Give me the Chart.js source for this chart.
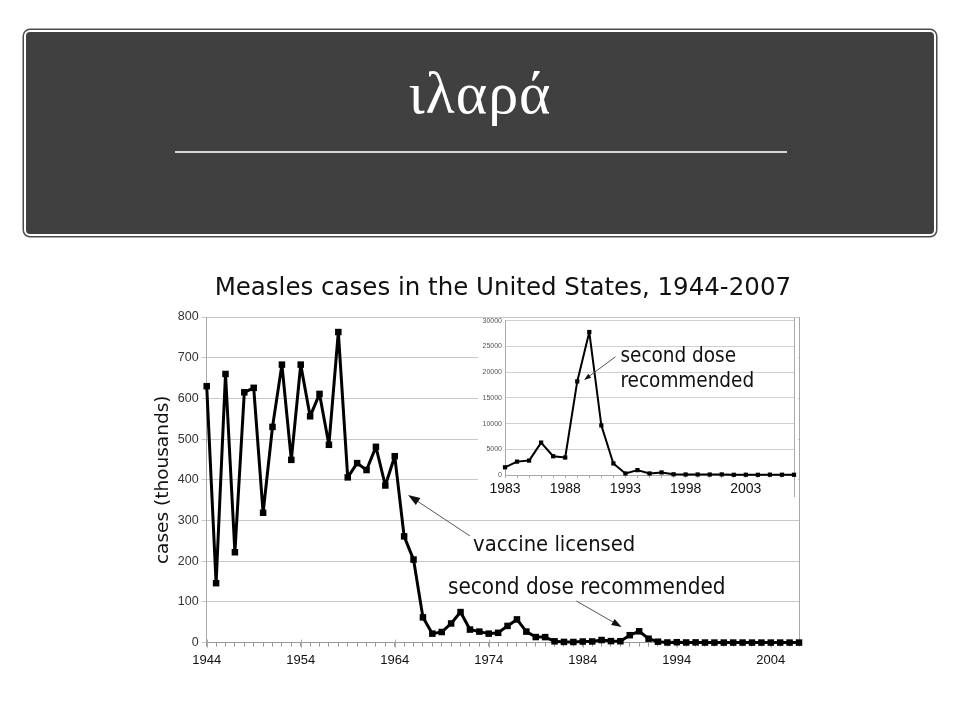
<!DOCTYPE html>
<html>
<head>
<meta charset="utf-8">
<script src="https://cdn.jsdelivr.net/npm/chart.js@4"></script>
<style>
  body { margin: 0; background: #fff; width: 960px; height: 720px; position: relative; overflow: hidden; }
  #banner { position: absolute; left: 24px; top: 30px; width: 912px; height: 206px; box-sizing: border-box;
            background: #404040; border: 2px solid #fff; border-radius: 6px; box-shadow: 0 0 0 1.5px #4d4d4d; }
  #banner h1 { position: absolute; left: 0; right: 0; top: 28px; margin: 0; text-align: center; letter-spacing: 1px;
               font: normal 60px/66px "Liberation Serif", serif; color: #fff; }
  #banner .rule { position: absolute; left: 149px; top: 119px; width: 612px; height: 2px; background: #d8d8d8; }
  #main { position: absolute; left: 140px; top: 262px; }
  #inset { position: absolute; left: 478px; top: 312px; }
</style>
</head>
<body>
<div id="banner"><h1>ιλαρά</h1><div class="rule"></div></div>
<canvas id="main" width="680" height="410"></canvas>
<canvas id="inset" width="320" height="188"></canvas>
<script>
// Measles cases, main chart (thousands)
const years = [1944, 1945, 1946, 1947, 1948, 1949, 1950, 1951, 1952, 1953,
               1954, 1955, 1956, 1957, 1958, 1959, 1960, 1961, 1962, 1963,
               1964, 1965, 1966, 1967, 1968, 1969, 1970, 1971, 1972, 1973,
               1974, 1975, 1976, 1977, 1978, 1979, 1980, 1981, 1982, 1983,
               1984, 1985, 1986, 1987, 1988, 1989, 1990, 1991, 1992, 1993,
               1994, 1995, 1996, 1997, 1998, 1999, 2000, 2001, 2002, 2003,
               2004, 2005, 2006, 2007];
const casesThousands = [630, 146, 660, 222, 615, 626, 319, 530, 683, 449,
                        683, 556, 611, 486, 763, 406, 441, 424, 481, 386,
                        458, 261, 204, 62, 22, 26, 47, 75, 32, 27,
                        22, 24, 41, 57, 27, 13.6, 13.5, 3.1, 1.7, 1.5,
                        2.6, 2.8, 6.3, 3.7, 3.4, 18.2, 27.8, 9.6, 2.2, 0.3,
                        1.0, 0.3, 0.5, 0.14, 0.1, 0.1, 0.09, 0.12, 0.04, 0.06,
                        0.04, 0.07, 0.06, 0.04];
const xTickLabels = [1944, 1954, 1964, 1974, 1984, 1994, 2004];

// Inset chart (cases)
const insetYears = [1983, 1984, 1985, 1986, 1987, 1988, 1989, 1990, 1991, 1992,
                    1993, 1994, 1995, 1996, 1997, 1998, 1999, 2000, 2001, 2002,
                    2003, 2004, 2005, 2006, 2007];
const insetCases = [1500, 2600, 2800, 6300, 3650, 3400, 18200, 27800, 9650, 2250,
                    300, 950, 300, 500, 140, 100, 100, 90, 115, 45,
                    55, 40, 65, 55, 45];
const insetXTickLabels = [1983, 1988, 1993, 1998, 2003];

// text + arrow notes, in data units (year, value)
const mainNotes = [
    { lines: ['vaccine licensed'], x: 1972.33, y: 225.8, size: 21.8,
      from: [1972.0, 262], to: [1965.42, 362.7], head: 12 },
    { lines: ['second dose recommended'], x: 1969.67, y: 119.4, size: 22.3,
      from: [1983.32, 102.2], to: [1988.13, 38.3], head: 10 }
];
const insetNotes = [
    { lines: ['second dose', 'recommended'], x: 1992.59, y: 21983, size: 20.5, lineGap: 25,
      from: [1992.18, 23000], to: [1989.57, 18470], head: 7 }
];

// pixel for a fractional year on a category axis
function yearPx(scale, labels, yr) {
    const i = yr - labels[0];
    const i0 = Math.floor(i);
    const p0 = scale.getPixelForValue(i0);
    const p1 = scale.getPixelForValue(i0 + 1);
    return p0 + (p1 - p0) * (i - i0);
}

const arrowNotes = {
    id: 'arrowNotes',
    afterDatasetsDraw(chart, args, opts) {
        const ctx = chart.ctx;
        const xs = chart.scales.x, ys = chart.scales.y;
        const labels = chart.data.labels;
        ctx.save();
        opts.notes.forEach(n => {
            const fx = yearPx(xs, labels, n.from[0]), fy = ys.getPixelForValue(n.from[1]);
            const tx = yearPx(xs, labels, n.to[0]), ty = ys.getPixelForValue(n.to[1]);
            const ang = Math.atan2(ty - fy, tx - fx);
            const c = Math.cos(ang), s = Math.sin(ang);
            ctx.strokeStyle = '#555';
            ctx.lineWidth = 1;
            ctx.beginPath();
            ctx.moveTo(fx, fy);
            ctx.lineTo(tx - c * n.head * 0.8, ty - s * n.head * 0.8);
            ctx.stroke();
            ctx.fillStyle = '#111';
            ctx.beginPath();
            ctx.moveTo(tx, ty);
            ctx.lineTo(tx - c * n.head + s * n.head * 0.35, ty - s * n.head - c * n.head * 0.35);
            ctx.lineTo(tx - c * n.head - s * n.head * 0.35, ty - s * n.head + c * n.head * 0.35);
            ctx.closePath();
            ctx.fill();

            ctx.font = n.size + 'px "DejaVu Sans Condensed", "DejaVu Sans", sans-serif';
            ctx.textAlign = 'left';
            ctx.textBaseline = 'alphabetic';
            const lx = yearPx(xs, labels, n.x), ly = ys.getPixelForValue(n.y);
            n.lines.forEach((t, i) => ctx.fillText(t, lx, ly + i * (n.lineGap || 0)));
        });
        ctx.restore();
    }
};

const frame = {
    id: 'frame',
    beforeDraw(chart, args, opts) {
        if (opts.fillFrom === undefined) return;
        const ctx = chart.ctx;
        ctx.save();
        ctx.fillStyle = '#fff';
        ctx.fillRect(0, opts.fillFrom, chart.width, chart.height - opts.fillFrom);
        ctx.restore();
    },
    beforeDatasetsDraw(chart, args, opts) {
        const { ctx, chartArea: a } = chart;
        const xs = chart.scales.x;
        const labels = chart.data.labels;
        const rx = Math.min(Math.round(a.right) + 0.5, chart.width - 0.5);
        ctx.save();
        ctx.strokeStyle = opts.color;
        ctx.lineWidth = 1;
        ctx.beginPath();
        ctx.moveTo(rx, a.top - opts.above);
        ctx.lineTo(rx, a.bottom + opts.extend);
        ctx.stroke();
        // longer marks at labelled years
        opts.major.forEach(yr => {
            const px = Math.round(yearPx(xs, labels, yr)) + 0.5;
            ctx.beginPath();
            ctx.moveTo(px, a.bottom - opts.up);
            ctx.lineTo(px, a.bottom + opts.down);
            ctx.stroke();
        });
        ctx.restore();
    }
};

new Chart(document.getElementById('main'), {
    type: 'line',
    data: {
        labels: years,
        datasets: [{
            data: casesThousands,
            borderColor: '#000',
            borderWidth: 3,
            borderJoinStyle: 'bevel',
            pointStyle: 'rect',
            pointRadius: 4.6,
            pointBackgroundColor: '#000',
            pointBorderWidth: 0,
            tension: 0,
            clip: false
        }]
    },
    options: {
        responsive: false,
        animation: false,
        events: [],
        layout: { padding: { left: 10, right: 21, top: 0, bottom: 0 } },
        scales: {
            x: {
                type: 'category',
                offset: false,
                grid: { drawOnChartArea: false, drawTicks: true, tickLength: 4, color: '#999' },
                border: { color: '#999' },
                ticks: {
                    autoSkip: false, maxRotation: 0, padding: 6, color: '#111',
                    font: { family: 'Liberation Sans', size: 13 },
                    callback: (v, i) => xTickLabels.includes(years[i]) ? String(years[i]) : ''
                },
                afterFit: s => { s.height = 29.4; }
            },
            y: {
                min: 0, max: 800,
                ticks: { stepSize: 100, color: '#333', padding: 3, font: { family: 'Liberation Sans', size: 12.5 } },
                grid: { color: '#c8c8c8', tickLength: 5 },
                border: { color: '#a8a8a8' },
                title: {
                    display: true, text: 'cases (thousands)', color: '#111',
                    font: { family: 'DejaVu Sans', size: 18.5 }, padding: { top: 2, bottom: 0 }
                },
                afterFit: s => { s.width = 56.7; }
            }
        },
        plugins: {
            legend: { display: false },
            tooltip: { enabled: false },
            title: {
                display: true,
                fullSize: false,
                text: 'Measles cases in the United States, 1944-2007',
                color: '#111',
                font: { family: 'DejaVu Sans', size: 24.5, weight: 'normal' },
                padding: { top: 12.4, bottom: 13.2 }
            },
            frame: { color: '#a8a8a8', above: 0, extend: 0, major: xTickLabels, up: 3, down: 5 },
            arrowNotes: { notes: mainNotes }
        }
    },
    plugins: [frame, arrowNotes]
});

new Chart(document.getElementById('inset'), {
    type: 'line',
    data: {
        labels: insetYears,
        datasets: [{
            data: insetCases,
            borderColor: '#000',
            borderWidth: 2,
            borderJoinStyle: 'bevel',
            pointStyle: 'rect',
            pointRadius: 3,
            pointBackgroundColor: '#000',
            pointBorderWidth: 0,
            tension: 0,
            clip: false
        }]
    },
    options: {
        responsive: false,
        animation: false,
        events: [],
        layout: { padding: { left: 0, right: 0, top: 8.7, bottom: 0 } },
        scales: {
            x: {
                type: 'category',
                offset: false,
                grid: { drawOnChartArea: false, drawTicks: true, tickLength: 3, color: '#aaa' },
                border: { color: '#aaa' },
                ticks: {
                    autoSkip: false, maxRotation: 0, padding: 3, color: '#111',
                    font: { family: 'Liberation Sans', size: 14 },
                    callback: (v, i) => insetXTickLabels.includes(insetYears[i]) ? String(insetYears[i]) : ''
                },
                afterFit: s => { s.height = 25; }
            },
            y: {
                min: 0, max: 30000,
                ticks: {
                    stepSize: 5000, color: '#555', padding: 3,
                    font: { family: 'Liberation Sans', size: 7 },
                    callback: v => String(v)
                },
                grid: { color: '#d0d0d0', drawTicks: false },
                border: { color: '#aaa' },
                afterFit: s => { s.width = 27; }
            }
        },
        plugins: {
            legend: { display: false },
            tooltip: { enabled: false },
            frame: { color: '#aaa', fillFrom: 6, above: 3, extend: 22, major: [], up: 0, down: 0 },
            arrowNotes: { notes: insetNotes }
        }
    },
    plugins: [frame, arrowNotes]
});
</script>
</body>
</html>
